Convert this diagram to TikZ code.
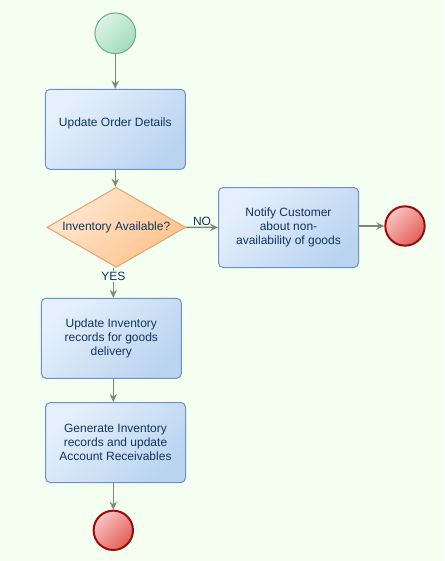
\documentclass[tikz,border=0pt]{standalone}
\usepackage{fontspec}
\setmainfont{Liberation Sans}
\usetikzlibrary{arrows.meta,shapes.geometric}
\definecolor{bgcol}{HTML}{F4FEF1}
\definecolor{txtcol}{HTML}{0F3560}
\definecolor{flowcol}{HTML}{7C887B}
\definecolor{boxline}{HTML}{6E8FC8}
\definecolor{boxtop}{HTML}{E6F0FC}
\definecolor{boxbot}{HTML}{BAD4F0}
\definecolor{decline}{HTML}{E5A26A}
\definecolor{dectop}{HTML}{FFE8D2}
\definecolor{decbot}{HTML}{FFC28C}
\definecolor{startline}{HTML}{6FA98A}
\definecolor{starttop}{HTML}{DCF2E4}
\definecolor{startbot}{HTML}{A2DDBA}
\definecolor{endline}{HTML}{9A0B0B}
\definecolor{endtop}{HTML}{F9C4C2}
\definecolor{endbot}{HTML}{E35E58}

\begin{document}
\begin{tikzpicture}[x=0.75pt, y=-0.75pt, every node/.style={font=\fontsize{9}{10.5}\selectfont, text=txtcol}, >={Stealth[length=6pt,width=5.5pt]},
	proc/.style={draw=boxline, line width=0.75pt, rounded corners=3.5pt, top color=boxtop, bottom color=boxbot, shading angle=45, minimum width=105pt, minimum height=60pt, align=center},
	decide/.style={diamond, aspect=1.74, draw=decline, line width=0.75pt, top color=dectop, bottom color=decbot, shading angle=45, minimum width=104pt, minimum height=60pt, inner sep=0pt},
	startdot/.style={circle, draw=startline, line width=0.75pt, top color=starttop, bottom color=startbot, shading angle=45, minimum size=30.5pt, inner sep=0pt},
	enddot/.style={circle, draw=endline, line width=1.5pt, top color=endtop, bottom color=endbot, shading angle=45, minimum size=29.5pt, inner sep=0pt},
	flow/.style={->, draw=flowcol, line width=1.1pt}]
	\fill[bgcol] (0,0) rectangle (444,561);
	\useasboundingbox (0,0) rectangle (444,561);
	\node[startdot] (start) at (115.3,33.3) {};
	\node[proc, text height=7pt, text depth=11pt] (upd) at (115.3,129.3) {Update Order Details};
	\node[decide] (dec) at (116.3,227.3) {Inventory Available?};
	\node[proc] (notify) at (288.5,227.5) {Notify Customer\\about non-\\availability of goods};
	\node[enddot] (endR) at (405,226) {};
	\node[proc] (invrec) at (111.3,338.3) {Update Inventory\\records for goods\\delivery};
	\node[proc] (gen) at (115.5,442.5) {Generate Inventory\\records and update\\Account Receivables};
	\node[enddot] (endB) at (113.3,530.3) {};
	\draw[flow] (start) -- (upd);
	\draw[flow] (upd) -- (upd |- dec.north);
	\draw[flow] (dec) -- (notify) node[midway, above, inner sep=1pt] {NO};
	\draw[flow] (notify.east |- endR) -- (endR);
	\draw[flow] (endB |- dec.south) -- (endB |- invrec.north) node[pos=0.3, fill=bgcol, inner sep=1pt] {YES};
	\draw[flow] (endB |- invrec.south) -- (endB |- gen.north);
	\draw[flow] (endB |- gen.south) -- (endB);
\end{tikzpicture}
\end{document}
